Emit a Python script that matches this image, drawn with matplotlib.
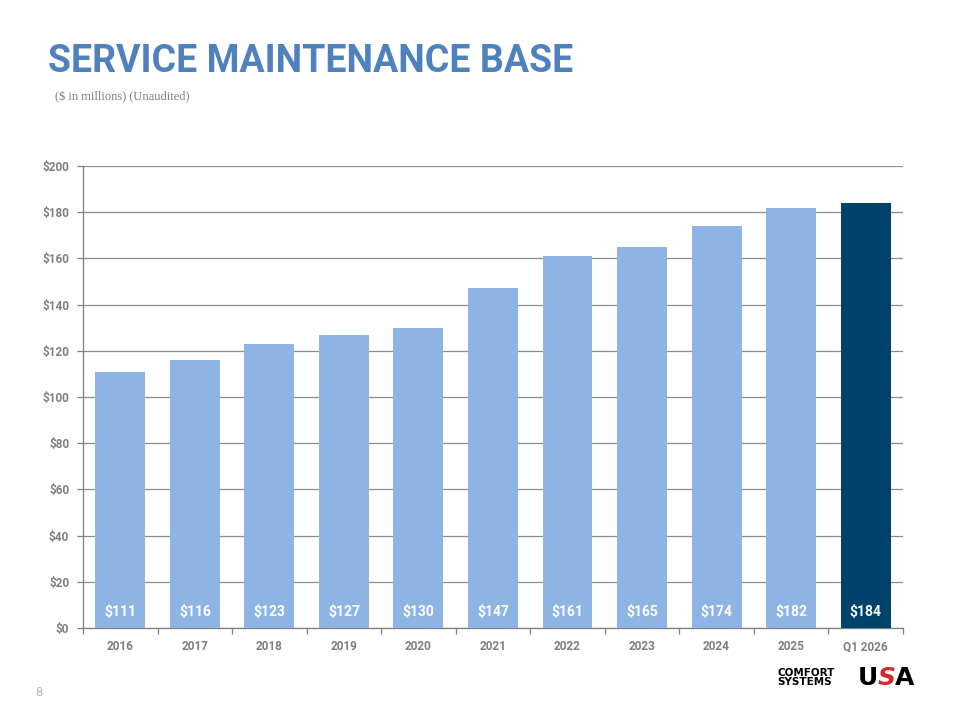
import matplotlib.pyplot as plt
import numpy as np

categories = ["2016", "2017", "2018", "2019", "2020", "2021", "2022", "2023", "2024", "2025", "Q1 2026"]
values = [111, 116, 123, 127, 130, 147, 161, 165, 174, 182, 184]
labels = ["$111", "$116", "$123", "$127", "$130", "$147", "$161", "$165", "$174", "$182", "$184"]
y_ticks = [0, 20, 40, 60, 80, 100, 120, 140, 160, 180, 200]

light = "#8EB4E3"
dark = "#00426A"
grey = "#7F7F7F"

plt.rcParams['font.family'] = ['Roboto', 'DejaVu Sans']

fig = plt.figure(figsize=(9.6, 7.2), dpi=100)
ax = fig.add_axes([0.0865, 0.1278, 0.854, 0.6416])

x = np.arange(len(categories))
colors = [light] * (len(values) - 1) + [dark]
ax.bar(x, values, width=0.67, color=colors, zorder=3)

for xi, lab in zip(x, labels):
    ax.text(xi, 7, lab, ha='center', va='center', color='white',
            fontsize=10, fontweight='bold', zorder=4)

ax.set_xlim(-0.5, len(categories) - 0.5)
ax.set_ylim(0, 200)
ax.set_yticks(y_ticks)
ax.set_yticklabels(["$" + str(v) for v in y_ticks])
ax.yaxis.grid(True, color="#8C8C8C", linewidth=0.9, zorder=0)

# x ticks at category boundaries, labels centred
ax.set_xticks(np.arange(-0.5, len(categories), 1.0))
ax.set_xticklabels([])
ax.set_xticks(x, minor=True)
ax.set_xticklabels(categories, minor=True)
ax.tick_params(axis='x', which='major', length=4, color=grey, width=0.9)
ax.tick_params(axis='x', which='minor', length=0, pad=9)
ax.tick_params(axis='y', length=4, color=grey, width=0.9, pad=6)
for lab in ax.get_xticklabels(minor=True) + ax.get_yticklabels():
    lab.set_color(grey)
    lab.set_fontsize(8.5)
    lab.set_fontweight('bold')

for side in ['top', 'right']:
    ax.spines[side].set_visible(False)
for side in ['left', 'bottom']:
    ax.spines[side].set_color(grey)
    ax.spines[side].set_linewidth(0.9)

fig.text(0.05, 0.915, "SERVICE MAINTENANCE BASE", fontsize=27, fontweight='bold',
         color="#4F81BD", ha='left', va='center')
fig.text(0.057, 0.865, "($ in millions) (Unaudited)", fontsize=9, color="#808080",
         family=['Liberation Serif', 'DejaVu Serif'], ha='left', va='center')
fig.text(0.037, 0.038, "8", fontsize=9, color="#A6B8D8", ha='left', va='center')

# logo
fig.text(0.810, 0.059, "COMFORT\nSYSTEMS", fontsize=7.5, fontweight='heavy', color='black',
         ha='left', va='center', linespacing=0.8, family=['DejaVu Sans'])
fig.text(0.893, 0.058, "U", fontsize=18, fontweight='heavy', color='black', ha='left', va='center',
         family=['DejaVu Sans'])
fig.text(0.9145, 0.058, "S", fontsize=18, fontweight='heavy', color='#D7262E', ha='left', va='center',
         family=['DejaVu Sans'], style='italic')
fig.text(0.9325, 0.058, "A", fontsize=18, fontweight='heavy', color='black', ha='left', va='center',
         family=['DejaVu Sans'])

fig.savefig("out.png", dpi=100)
